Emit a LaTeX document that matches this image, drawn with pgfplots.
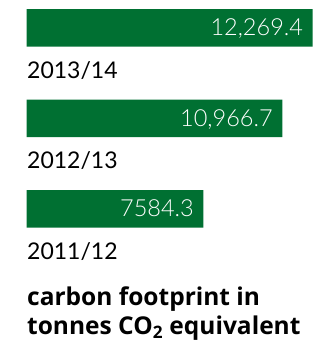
\documentclass[border=0pt]{standalone}
\usepackage{fontspec}
\setmainfont{Lato}
\newfontfamily\lightfont{Lato Light}
\newfontfamily\titlefont{Open Sans}
\usepackage{pgfplots}
\pgfplotsset{compat=1.18}
\definecolor{barGreen}{RGB}{0,112,50}
\begin{document}
\begin{tikzpicture}
\begin{axis}[
  scale only axis, width=324pt, height=340pt,
  xmin=-1145, xmax=12754, ymin=-1.45, ymax=2.307,
  hide axis, clip=false,
  xbar, bar width=37.5pt,
  point meta=explicit symbolic,
  nodes near coords,
  nodes near coords style={anchor=base east, xshift=-9.5pt, yshift=-8pt,
     text=white, font=\lightfont\fontsize{23.5}{26}\selectfont, inner sep=0pt},
]
\addplot[draw=none, fill=barGreen] coordinates {
  (12269.4,2) [12,269.4]
  (10966.7,1) [10,966.7]
  (7584.3,0) [7584.3]
};
\node[anchor=base west, inner sep=0pt, font=\fontsize{23}{26}\selectfont] at (rel axis cs:27/324,{1-78.3/340}) {2013/14};
\node[anchor=base west, inner sep=0pt, font=\fontsize{23}{26}\selectfont] at (rel axis cs:27/324,{1-168.3/340}) {2012/13};
\node[anchor=base west, inner sep=0pt, font=\fontsize{23}{26}\selectfont] at (rel axis cs:27/324,{1-259.5/340}) {2011/12};
\node[anchor=base west, inner sep=0pt, align=left, font=\titlefont\bfseries\fontsize{24.5}{29.5}\selectfont] at (rel axis cs:27/324,{1-335/340}) {carbon footprint in\\tonnes CO\textsubscript{2} equivalent};
\end{axis}
\pgfresetboundingbox
\path[use as bounding box] (current axis.south west) rectangle (current axis.north east);
\end{tikzpicture}
\end{document}
